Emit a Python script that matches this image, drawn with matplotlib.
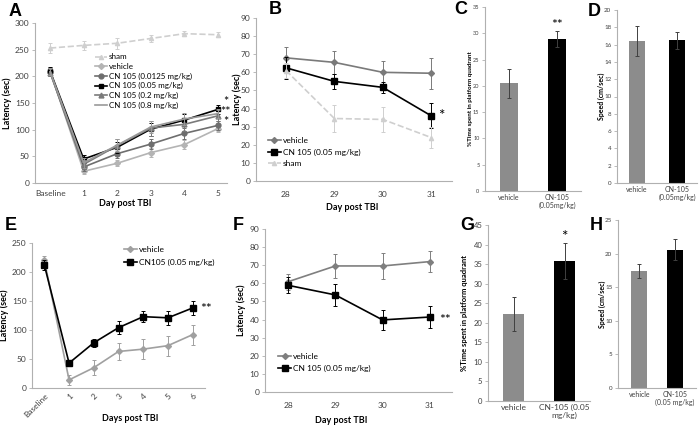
import numpy as np
import matplotlib
matplotlib.use('Agg')
import matplotlib.pyplot as plt

plt.rcParams['font.family'] = ['Lato', 'DejaVu Sans']

# --- A: latency, days after TBI (dose groups)
a_days = ['Baseline', '1', '2', '3', '4', '5']
a_sham = [253, 258, 262, 271, 280, 278]
a_sham_err = [9, 9, 10, 7, 5, 5]
a_vehicle = [210, 22, 37, 57, 72, 102]
a_vehicle_err = [7, 5, 6, 8, 9, 7]
a_cn0125 = [208, 30, 55, 73, 93, 108]
a_cn0125_err = [7, 8, 9, 10, 10, 8]
a_cn05 = [210, 45, 67, 101, 118, 138]
a_cn05_err = [8, 8, 10, 12, 12, 8]
a_cn2 = [207, 35, 70, 103, 110, 126]
a_cn2_err = [7, 9, 12, 14, 12, 10]
a_cn8 = [209, 38, 71, 105, 120, 130]
a_cn8_err = [7, 9, 11, 12, 11, 9]

# --- B: probe days 28-31
b_days = [28, 29, 30, 31]
b_vehicle = [68, 65.5, 60, 59.5]
b_vehicle_err = [6, 6.5, 6.5, 8.5]
b_cn = [62.5, 55, 51.7, 36]
b_cn_err = [6, 4, 3, 7]
b_sham = [61, 34.5, 34, 24]
b_sham_err = [4, 7.5, 7, 6]

# --- C / D bars
c_groups = ['vehicle', 'CN-105\n(0.05mg/kg)']
c_time = [20.5, 28.9]
c_time_err = [2.8, 1.5]
d_speed = [16.4, 16.5]
d_speed_err = [1.7, 1.0]

# --- E: second cohort
e_days = ['Baseline', '1', '2', '3', '4', '5', '6']
e_vehicle = [220, 14, 35, 63, 67, 73, 92]
e_vehicle_err = [7, 9, 13, 15, 17, 17, 17]
e_cn = [212, 43, 78, 104, 123, 121, 138]
e_cn_err = [8, 5, 7, 11, 9, 12, 12]

# --- F
f_days = [28, 29, 30, 31]
f_vehicle = [60.9, 69.6, 69.6, 72]
f_vehicle_err = [4.5, 6.5, 7, 6]
f_cn = [58.9, 53.6, 39.8, 41.4]
f_cn_err = [4.5, 6, 5.5, 6.3]

# --- G / H bars
g_groups = ['vehicle', 'CN-105 (0.05\nmg/kg)']
g_time = [22.3, 35.8]
g_time_err = [4.4, 4.6]
h_groups = ['vehicle', 'CN-105\n(0.05 mg/kg)']
h_speed = [17.4, 20.6]
h_speed_err = [1.1, 1.6]

W, H = 700, 430
fig = plt.figure(figsize=(7, 4.3), dpi=100)

def px(l, t, r, b):
    return [l / W, 1 - b / H, (r - l) / W, (b - t) / H]

spine_c = '#b0b0b0'
text_c = '#404040'

def style(ax, fs=6):
    for s in ['top', 'right']:
        ax.spines[s].set_visible(False)
    for s in ['left', 'bottom']:
        ax.spines[s].set_color(spine_c)
        ax.spines[s].set_linewidth(0.8)
    ax.tick_params(colors=spine_c, labelcolor=text_c, labelsize=fs, length=2, width=0.6, pad=2)

def series(ax, x, y, err, color, marker, ms, ls='-', lw=1.2, label=None):
    ax.errorbar(x, y, yerr=err, color=color, ls='none', elinewidth=0.7,
                capsize=1.5, capthick=0.7)
    ax.plot(x, y, color=color, marker=marker, ms=ms, ls=ls, lw=lw, label=label)

def letter(x, y, s):
    fig.text(x / W, 1 - y / H, s, fontsize=13, fontweight='bold',
             family='Liberation Sans', ha='center', va='center')

def labels(ax, ylab, yx, fs_y, xlab=None, xx=0.5, xy=-0.1, fs_x=6.5):
    ax.set_ylabel(ylab, fontsize=fs_y, fontweight='bold')
    ax.yaxis.set_label_coords(yx, 0.5)
    if xlab:
        ax.set_xlabel(xlab, fontsize=fs_x, fontweight='bold')
        ax.xaxis.set_label_coords(xx, xy)

leg_kw = dict(loc='upper left', frameon=False, handlelength=1.6, handletextpad=0.2,
              borderpad=0, borderaxespad=0)

# ===== A
ax = fig.add_axes(px(35, 23, 227, 183))
x = np.arange(len(a_days))
series(ax, x, a_sham, a_sham_err, '#cfcfcf', '^', 3, ls='--', label='sham')
series(ax, x, a_vehicle, a_vehicle_err, '#b4b4b4', 'D', 3, label='vehicle')
series(ax, x, a_cn0125, a_cn0125_err, '#6e6e6e', 'o', 3.5, label='CN 105 (0.0125 mg/kg)')
series(ax, x, a_cn05, a_cn05_err, '#000000', 's', 3.5, label='CN 105 (0.05 mg/kg)')
series(ax, x, a_cn2, a_cn2_err, '#7a7a7a', '^', 3.5, label='CN 105 (0.2 mg/kg)')
series(ax, x, a_cn8, a_cn8_err, '#999999', None, 0, label='CN 105 (0.8 mg/kg)')
ax.set_xlim(-0.45, 5.27)
ax.set_ylim(0, 300)
ax.set_yticks(range(0, 301, 50))
ax.set_xticks(x)
ax.set_xticklabels(a_days)
style(ax)
ax.tick_params(axis='x', length=0, pad=5)
labels(ax, 'Latency (sec)', -0.12, 6.5, 'Day post TBI', 0.47, -0.10)
ax.legend(bbox_to_anchor=(0.31, 0.81), fontsize=5.8, labelspacing=0.32, **leg_kw)
ax.text(5.07, 133, '*\n**\n*', fontsize=9, ha='left', va='center',
        multialignment='center', linespacing=0.8, clip_on=False)
letter(15, 12, 'A')

# ===== B
ax = fig.add_axes(px(256, 18, 452, 181))
series(ax, b_days, b_vehicle, b_vehicle_err, '#7a7a7a', 'D', 3, label='vehicle')
series(ax, b_days, b_cn, b_cn_err, '#000000', 's', 4, label='CN 105 (0.05 mg/kg)')
series(ax, b_days, b_sham, b_sham_err, '#cfcfcf', '^', 3, ls='--', label='sham')
ax.set_xlim(27.38, 31.43)
ax.set_ylim(0, 90)
ax.set_yticks(range(0, 91, 10))
ax.set_xticks(b_days)
style(ax)
ax.tick_params(axis='x', length=0, pad=7)
labels(ax, 'Latency (sec)', -0.071, 6.5, 'Day post TBI', 0.49, -0.135)
ax.legend(bbox_to_anchor=(0.06, 0.27), fontsize=6, labelspacing=0.55, **leg_kw)
ax.text(31.15, 36, '*', fontsize=11, ha='left', va='center')
letter(275, 10, 'B')

# ===== C
ax = fig.add_axes(px(485, 7, 581, 191))
ax.bar([0, 1], c_time, yerr=c_time_err, width=0.37, color=['#8c8c8c', '#000000'],
       error_kw=dict(ecolor='#404040', elinewidth=0.7, capsize=1.5, capthick=0.7))
ax.set_xlim(-0.5, 1.5)
ax.set_ylim(0, 35)
ax.set_yticks(range(0, 36, 5))
ax.set_xticks([0, 1])
ax.set_xticklabels(c_groups)
style(ax, fs=4)
ax.tick_params(axis='x', length=0, labelsize=5)
labels(ax, '%Time spent in platform quadrant', -0.125, 4.5)
ax.text(1, 31.5, '**', fontsize=10, ha='center', va='center')
letter(461, 9, 'C')

# ===== D
ax = fig.add_axes(px(617, 10, 697, 183))
ax.bar([0, 1], d_speed, yerr=d_speed_err, width=0.42, color=['#8c8c8c', '#000000'],
       error_kw=dict(ecolor='#404040', elinewidth=0.7, capsize=1.5, capthick=0.7))
ax.set_xlim(-0.5, 1.5)
ax.set_ylim(0, 20)
ax.set_yticks(range(0, 21, 2))
ax.set_xticks([0, 1])
ax.set_xticklabels(c_groups)
style(ax, fs=4.5)
ax.tick_params(axis='x', length=0, labelsize=5)
labels(ax, 'Speed (cm/sec)', -0.15, 5)
letter(594, 11, 'D')

# ===== E
ax = fig.add_axes(px(32, 243, 205, 388))
x = np.arange(len(e_days))
series(ax, x, e_vehicle, e_vehicle_err, '#a0a0a0', 'D', 3, label='vehicle')
series(ax, x, e_cn, e_cn_err, '#000000', 's', 4, label='CN105 (0.05 mg/kg)')
ax.set_xlim(-0.5, 6.5)
ax.set_ylim(0, 250)
ax.set_yticks(range(0, 251, 50))
ax.set_xticks(x)
ax.set_xticklabels(e_days, rotation=45, ha='right', rotation_mode='anchor')
style(ax)
ax.tick_params(axis='x', length=0, pad=3)
labels(ax, 'Latency (sec)', -0.133, 6.5, 'Days post TBI', 0.57, -0.18)
ax.legend(bbox_to_anchor=(0.53, 0.98), fontsize=6, labelspacing=0.7, **leg_kw)
ax.text(6.3, 137, '**', fontsize=10, ha='left', va='center', clip_on=False)
letter(11, 225, 'E')

# ===== F
ax = fig.add_axes(px(265, 229, 452, 392))
series(ax, f_days, f_vehicle, f_vehicle_err, '#7f7f7f', 'D', 3, label='vehicle')
series(ax, f_days, f_cn, f_cn_err, '#000000', 's', 4.5, label='CN 105 (0.05 mg/kg)')
ax.set_xlim(27.51, 31.47)
ax.set_ylim(0, 90)
ax.set_yticks(range(0, 91, 10))
ax.set_xticks(f_days)
style(ax)
ax.tick_params(axis='x', length=0, pad=7)
labels(ax, 'Latency (sec)', -0.10, 6.5, 'Day post TBI', 0.41, -0.147)
ax.legend(bbox_to_anchor=(0.07, 0.24), fontsize=6, labelspacing=0.6, **leg_kw)
ax.text(31.2, 40, '**', fontsize=10, ha='left', va='center')
letter(238, 225, 'F')

# ===== G
ax = fig.add_axes(px(488, 225, 590, 401))
ax.bar([0, 1], g_time, yerr=g_time_err, width=0.4, color=['#8c8c8c', '#000000'],
       error_kw=dict(ecolor='#404040', elinewidth=0.7, capsize=1.5, capthick=0.7))
ax.set_xlim(-0.5, 1.5)
ax.set_ylim(0, 45)
ax.set_yticks(range(0, 46, 5))
ax.set_xticks([0, 1])
ax.set_xticklabels(g_groups)
style(ax, fs=5.5)
ax.tick_params(axis='x', length=0, labelsize=6)
labels(ax, '%Time spent in platform quadrant', -0.196, 5.5)
ax.text(1, 42, '*', fontsize=11, ha='center', va='center')
letter(467, 225, 'G')

# ===== H
ax = fig.add_axes(px(618, 220, 696, 388))
ax.bar([0, 1], h_speed, yerr=h_speed_err, width=0.45, color=['#8c8c8c', '#000000'],
       error_kw=dict(ecolor='#404040', elinewidth=0.7, capsize=1.5, capthick=0.7))
ax.set_xlim(-0.6, 1.6)
ax.set_ylim(0, 25)
ax.set_yticks(range(0, 26, 5))
ax.set_xticks([0, 1])
ax.set_xticklabels(h_groups)
style(ax, fs=4.5)
ax.tick_params(axis='x', length=0, labelsize=5)
labels(ax, 'Speed (cm/sec)', -0.16, 5)
letter(596, 225, 'H')

fig.savefig('out.png', dpi=100)
